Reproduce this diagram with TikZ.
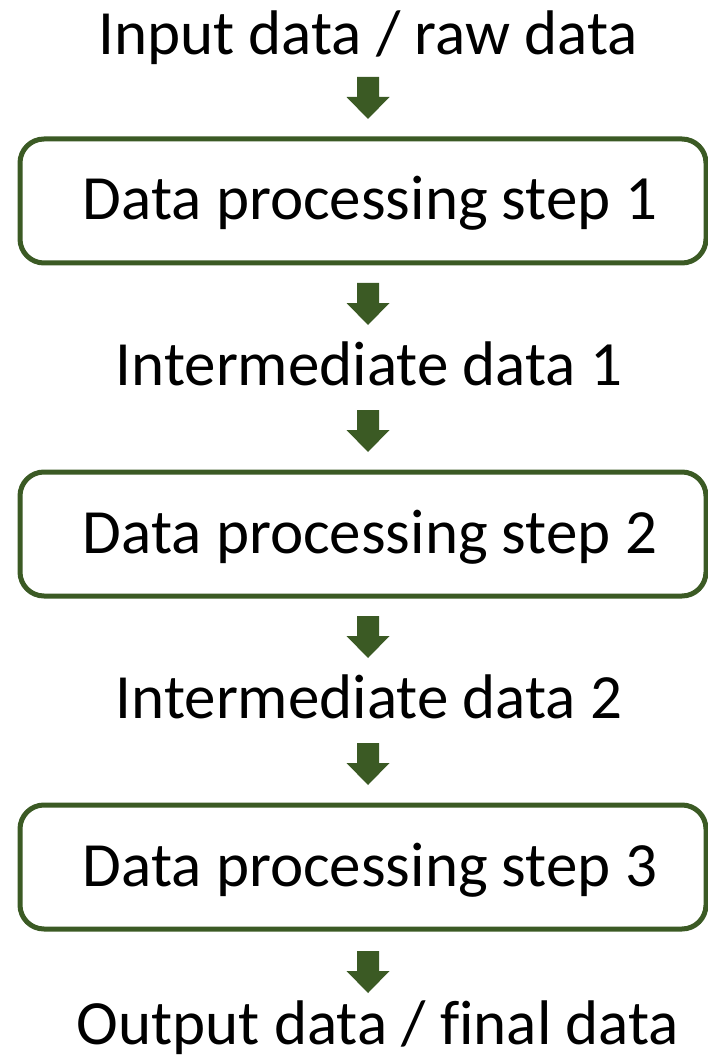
\documentclass[tikz,border=0pt]{standalone}
\usepackage{fontspec}
\setmainfont{Carlito}[Ligatures=CommonOff]
\usetikzlibrary{arrows.meta}
\definecolor{leaf}{HTML}{3B5A24}
\tikzset{
  x=1pt, y=-1pt,
  label text/.style={font=\fontsize{63}{75}\selectfont, anchor=base, inner sep=0pt},
  stepbox/.style={draw=leaf, line width=5pt, rounded corners=24pt, fill=white},
}
\begin{document}
\begin{tikzpicture}
\useasboundingbox (0,0) rectangle (707,1064);

% data stages
\node[label text] (raw)  at (368,55)   {Input data / raw data};
\node[label text] (mid1) at (369,385)  {Intermediate data 1};
\node[label text] (mid2) at (369,718)  {Intermediate data 2};
\node[label text] (out)  at (378,1044) {Output data / final data};

% processing steps
\foreach \i/\top in {1/139, 2/472, 3/805} {
  \draw[stepbox] (20,\top) rectangle (706,\top+124);
  \node[label text] (step\i) at (370,\top+81) {Data processing step \i};
}

% block arrows between stages
\foreach \n/\a in {1/77, 2/283, 3/410, 4/616, 5/743, 6/951} {
  \coordinate (s\n) at (368,\a);
  \coordinate (e\n) at (368,\a+42);
  \fill[leaf] (s\n) ++(-11,0) -- ++(22,0) -- ++(0,20) -- ++(10.5,0)
      -- (e\n) -- ++(-21.5,-22) -- ++(10.5,0) -- cycle;
}
\end{tikzpicture}
\end{document}
